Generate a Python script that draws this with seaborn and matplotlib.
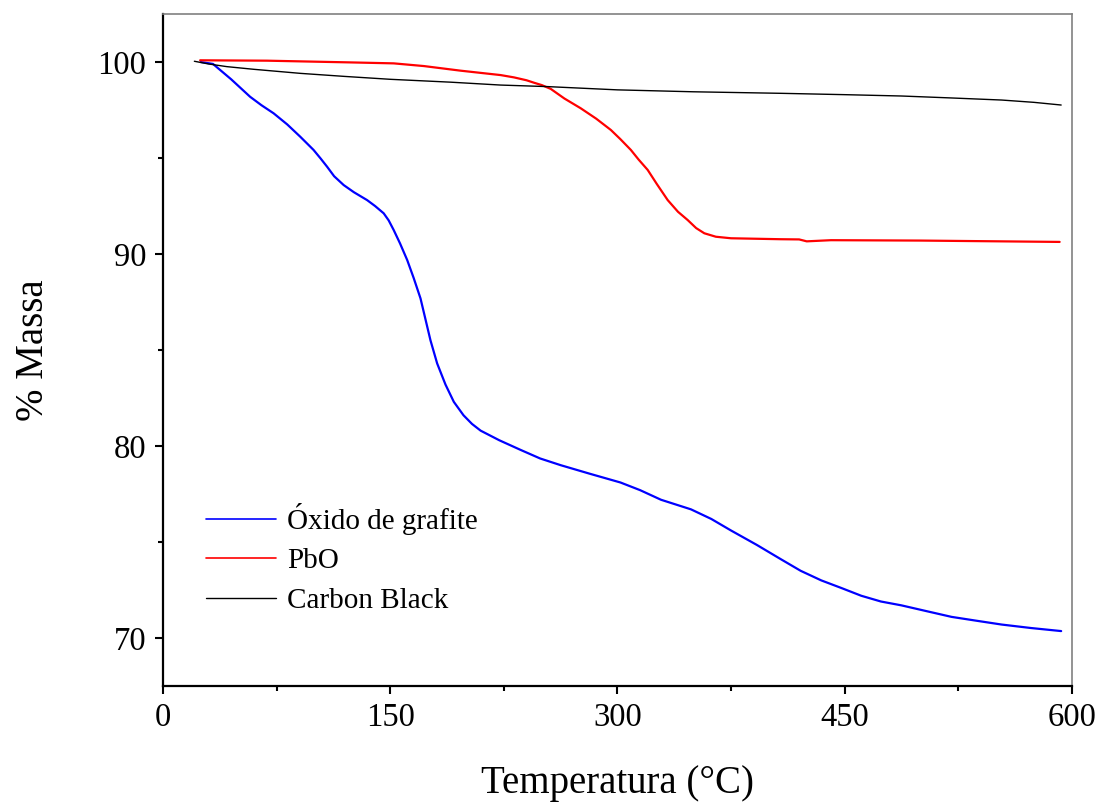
import numpy as np
import pandas as pd
import matplotlib
matplotlib.use("Agg")
import matplotlib.pyplot as plt
import seaborn as sns
from matplotlib.ticker import MultipleLocator
from matplotlib.lines import Line2D

# Data
go_T = [25, 33, 45, 57.5, 65, 73, 82, 90.6, 99.4, 104, 108.3, 113, 119.3, 126, 134.7, 140,
        145.7, 149, 152.3, 156.5, 161.2, 165.5, 170, 176.6, 181, 186.5, 192, 198.4, 204,
        209.7, 222, 236, 249, 262.6, 282, 302, 315, 328.8, 348.6, 362, 375, 392, 408, 421,
        434.6, 448, 461, 474, 487.5, 504, 520.6, 537, 553.7, 573, 593]
go_M = [100.0, 99.9, 99.1, 98.19, 97.75, 97.33, 96.75, 96.11, 95.42, 94.98, 94.55, 94.05,
        93.59, 93.22, 92.81, 92.5, 92.12, 91.75, 91.25, 90.55, 89.69, 88.75, 87.69, 85.5,
        84.3, 83.2, 82.3, 81.6, 81.15, 80.8, 80.3, 79.8, 79.35, 79.0, 78.55, 78.1, 77.7,
        77.2, 76.7, 76.2, 75.6, 74.85, 74.1, 73.5, 73.0, 72.6, 72.2, 71.9, 71.7, 71.4,
        71.1, 70.9, 70.7, 70.52, 70.36]

pbo_T = [24.5, 68.6, 123.7, 152.3, 172.2, 196.4, 222.9, 231.7, 240, 245, 250, 256, 265,
         275.8, 286, 295.7, 302, 308.9, 314, 320, 326, 333.2, 340, 346.4, 352, 357.4, 365,
         375, 408, 420, 425, 441, 500, 592]
pbo_M = [100.09, 100.07, 99.98, 99.93, 99.79, 99.55, 99.32, 99.2, 99.05, 98.92, 98.8,
         98.6, 98.1, 97.59, 97.05, 96.46, 95.98, 95.42, 94.92, 94.38, 93.65, 92.81, 92.2,
         91.77, 91.35, 91.08, 90.9, 90.82, 90.77, 90.76, 90.66, 90.72, 90.70, 90.63]

cb_T = [20.7, 30, 42.1, 60, 90.6, 120, 150, 190, 222.9, 253.8, 300, 350, 408, 450, 487.5,
        520, 553.7, 575, 593]
cb_M = [100.04, 99.9, 99.76, 99.62, 99.41, 99.25, 99.1, 98.95, 98.80, 98.72, 98.55, 98.45,
        98.37, 98.3, 98.23, 98.13, 98.02, 97.9, 97.76]

labels = ["Óxido de grafite", "PbO", "Carbon Black"]
colors = ["#0000ff", "#ff0000", "#000000"]

df = pd.concat([
    pd.DataFrame({"T": go_T, "M": go_M, "s": labels[0]}),
    pd.DataFrame({"T": pbo_T, "M": pbo_M, "s": labels[1]}),
    pd.DataFrame({"T": cb_T, "M": cb_M, "s": labels[2]}),
])

sns.set_theme(style="ticks")
plt.rcParams["font.family"] = ["Liberation Serif", "DejaVu Serif"]
plt.rcParams["text.color"] = "black"
plt.rcParams["axes.labelcolor"] = "black"

fig = plt.figure(figsize=(10.97, 8.06), dpi=100)
ax = fig.add_axes([0.1486, 0.1489, 0.8284, 0.8337])

sns.lineplot(data=df, x="T", y="M", hue="s", hue_order=labels, palette=colors,
             sort=False, ax=ax, estimator=None, legend=False)
for line, lw in zip(ax.lines, [1.6, 1.6, 1.0]):
    line.set_linewidth(lw)

ax.set_xlim(0, 600)
ax.set_ylim(67.5, 102.5)
ax.xaxis.set_major_locator(MultipleLocator(150))
ax.xaxis.set_minor_locator(MultipleLocator(75))
ax.yaxis.set_major_locator(MultipleLocator(10))
ax.yaxis.set_minor_locator(MultipleLocator(5))

ax.tick_params(which="major", direction="out", length=6, width=1.5, labelsize=23.5,
               colors="black", labelcolor="black", pad=6)
ax.tick_params(which="minor", direction="out", length=3.5, width=1.5, colors="black")

for s in ["left", "bottom"]:
    ax.spines[s].set_linewidth(1.6)
    ax.spines[s].set_color("black")
for s in ["top", "right"]:
    ax.spines[s].set_linewidth(1.2)
    ax.spines[s].set_color("#808080")

ax.set_xlabel("Temperatura (°C)", fontsize=28, labelpad=23, color="black")
ax.set_ylabel("% Massa", fontsize=28, labelpad=33, color="black")

handles = [Line2D([], [], color=c, lw=lw) for c, lw in zip(colors, [1.2, 1.2, 1.0])]
leg = ax.legend(handles, labels, loc="upper left", bbox_to_anchor=(0.035, 0.290),
                frameon=False, fontsize=21, handlelength=2.4, handletextpad=0.35,
                labelspacing=0.45, borderaxespad=0)
for t in leg.get_texts():
    t.set_color("black")

fig.savefig("out.png", dpi=100)
